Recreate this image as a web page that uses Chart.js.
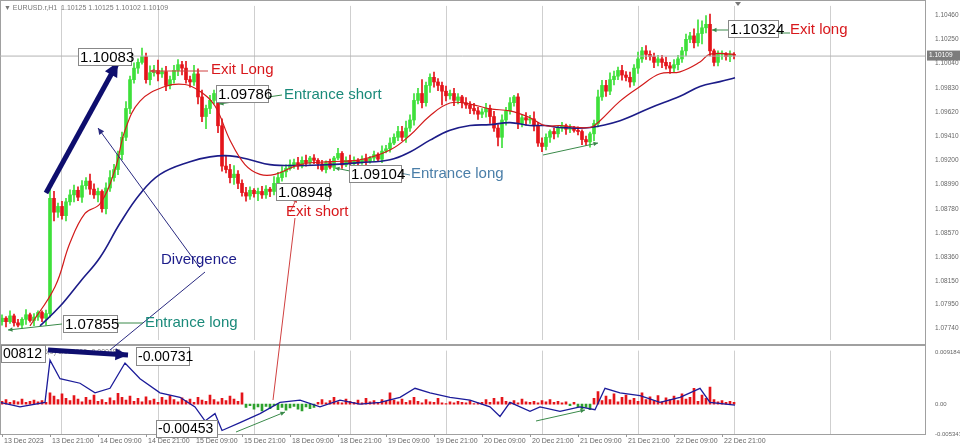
<!DOCTYPE html>
<html><head><meta charset="utf-8">
<script src="https://cdn.jsdelivr.net/npm/chart.js@4.4.1/dist/chart.umd.min.js"></script>
<style>
body{margin:0;background:#fff;width:960px;height:448px;overflow:hidden;position:relative;font-family:Arial,"Liberation Sans",sans-serif}
#m{position:absolute;left:0;top:0;width:960px;height:346px}
#l{position:absolute;left:0;top:345px;width:960px;height:103px}
#o{position:absolute;left:0;top:0;pointer-events:none}
</style></head><body>
<div id="m"><canvas id="cm"></canvas></div>
<div id="l"><canvas id="cl"></canvas></div>
<canvas id="o" width="960" height="448"></canvas>
<script>
// ---------- DATA ----------
const closes = [
1.0783,1.0780,1.0785,1.0779,1.0777,1.0782,1.0786,1.0781,1.0784,1.0788,1.0783,1.0787,
1.0887,1.0875,1.0880,1.0872,1.0884,1.0890,1.0894,1.0888,1.0898,1.0902,1.0895,1.0890,1.0893,
1.0878,1.0896,1.0905,1.0912,1.0925,1.0940,1.0965,1.0990,1.1000,1.1005,1.1010,
1.0990,1.0996,1.0998,1.0995,1.0997,1.0985,1.0990,1.0998,1.1003,1.1000,1.0990,1.0988,1.0995,
1.0975,1.0958,1.0965,1.0972,1.0978,1.0950,1.0915,1.0912,1.0905,1.0908,1.0900,1.0892,
1.0889,1.0894,1.0891,1.0893,1.0890,1.0895,1.0893,1.0900,1.0905,1.0910,1.0913,1.0916,1.0918,1.0915,1.0920,1.0918,1.0922,1.0920,
1.0917,1.0912,1.0918,1.0914,1.0922,1.0926,1.0916,1.0920,1.0917,1.0920,1.0918,1.0921,1.0919,1.0922,1.0925,1.0921,1.0928,1.0930,1.0935,1.0940,1.0945,
1.0940,1.0948,1.0955,1.0972,1.0978,1.0970,1.0985,1.0992,1.0988,1.0985,1.0980,1.0976,1.0978,1.0972,1.0975,1.0970,1.0968,1.0965,1.0963,1.0960,1.0962,
1.0965,1.0958,1.0948,1.0940,1.0955,1.0963,1.0970,1.0975,1.0952,1.0957,1.0955,1.0956,1.0950,1.0935,1.0932,1.0940,1.0945,1.0943,1.0948,1.0950,1.0947,1.0948,1.0946,1.0945,1.0938,1.0936,1.0943,
1.0952,1.0975,1.0985,1.0980,1.0990,1.0993,1.0998,1.0994,1.0992,1.0988,1.1000,1.1008,1.1015,1.1012,1.1010,1.1005,1.1008,1.1005,1.1002,1.1000,1.1003,1.1008,
1.1015,1.1025,1.1028,1.1022,1.1030,1.1035,1.1038,1.1015,1.1005,1.1012,1.1012,1.1010,1.1012,1.1011];
const firstOpen = 1.0780;
// wick sizes, one digit per candle, in units of 1.5 pips
const wickUp = "2131213121126423233232432134323423252436232332425342323463522321232143323232312121213123212312132323343438223223232132322323232312232423212121212121243343232324232222323223248456122121";
const wickDn = "2312123132242532324232324232233232312324232234232437324323432322422323231221212312121212321212121212232323243383232323232342563223232323233223212323422323232323232323232323232633223232321";
const redMAx = [30,55,70,85,100,115,125,140,165,185,200,215,230,245,260,275,300,330,360,390,410,430,450,470,490,510,530,545,560,590,600,620,640,660,680,700,710,735];
const redMAy = [1.07763,1.08103,1.08484,1.08739,1.08823,1.09120,1.09460,1.09714,1.09841,1.09858,1.09798,1.09671,1.09375,1.09163,1.09078,1.09078,1.09163,1.09188,1.09205,1.09290,1.09417,1.09587,1.09697,1.09688,1.09646,1.09629,1.09570,1.09502,1.09502,1.09485,1.09544,1.09714,1.09841,1.09951,1.09968,1.10053,1.10121,1.10121];
const blueMAx = [40,60,80,100,120,140,160,190,210,230,250,270,300,330,360,390,410,430,450,470,490,510,530,545,560,590,620,650,680,700,720,735];
const blueMAy = [1.07763,1.07933,1.08145,1.08357,1.08654,1.08908,1.09078,1.09188,1.09230,1.09239,1.09205,1.09163,1.09155,1.09163,1.09180,1.09205,1.09273,1.09375,1.09460,1.09502,1.09510,1.09527,1.09502,1.09502,1.09485,1.09485,1.09544,1.09654,1.09756,1.09841,1.09883,1.09917];
const priceTicks = [1.10460,1.10250,1.10040,1.09830,1.09620,1.09410,1.09200,1.08990,1.08780,1.08570,1.08360,1.08150,1.07950,1.07740];
const hist = [5,8,3,6,4,9,3,5,7,4,6,3,
20,14,8,18,10,6,15,9,4,12,7,16,5,
8,3,11,6,19,12,7,14,5,10,4,13,
6,9,3,12,7,15,8,4,11,6,9,3,
12,7,5,16,8,4,10,6,14,9,5,20,
-6,-3,-9,-5,-12,-4,-8,-3,-10,-6,-11,-7,-4,-9,-12,-5,-8,-6,
3,8,2,6,12,4,2,9,5,3,7,2,10,4,6,3,8,5,20,7,4,
9,3,6,12,5,2,8,4,3,10,2,1,4,2,5,3,2,6,1,2,3,
8,3,10,4,12,5,3,6,2,9,4,3,5,2,6,4,8,3,5,2,4,-3,3,-5,-8,-6,-10,
10,22,6,14,8,18,4,12,16,7,10,5,20,8,13,6,15,4,11,8,14,6,18,9,12,28,5,16,10,30,8,4,6,3,5,3];
const oscX = [0,20,45,50,60,80,95,110,125,140,160,180,195,205,215,222,240,260,280,300,320,340,360,380,400,415,430,450,470,490,500,510,530,540,560,580,595,605,620,640,660,680,700,710,735];
const oscY = [0.0003,-0.0005,0.0003,0.0078,0.0045,0.0037,0.0020,0.0028,0.0073,0.0045,0.0020,0.0012,-0.0005,-0.0030,-0.0017,-0.0047,-0.0033,-0.0017,0.0003,0.0007,-0.0005,0.0007,0.0000,0.0003,0.0012,0.0028,0.0020,0.0012,0.0007,-0.0005,-0.0022,0.0003,-0.0013,-0.0005,-0.0013,-0.0005,-0.0010,0.0028,0.0020,0.0015,0.0003,0.0012,0.0028,0.0003,-0.0002];
const oscTicks = [0.009184,0,-0.005343];
const oscTickLabels = ["0.009184","0.00","-0.005343"];
const dateLabels = ["13 Dec 2023","13 Dec 21:00","14 Dec 09:00","14 Dec 21:00","15 Dec 09:00","15 Dec 21:00","18 Dec 09:00","18 Dec 21:00","19 Dec 09:00","19 Dec 21:00","20 Dec 09:00","20 Dec 21:00","21 Dec 09:00","21 Dec 21:00","22 Dec 09:00","22 Dec 21:00"];
const lastPrice = 1.10109;

// ---------- BUILD ----------
const UP='#3ee03a', DN='#e4141a';
const pxToIdx = x => (x-2)/4;
const n = closes.length;
const bodies=[], wicks=[], bodyCol=[];
for(let i=0;i<n;i++){
  const o = i? closes[i-1] : firstOpen, c = closes[i];
  const hu = (+wickUp[i]||1)*0.00015, hd=(+wickDn[i]||1)*0.00015;
  bodies.push({x:i,y:[o,c]});
  wicks.push({x:i,y:[Math.min(o,c)-hd, Math.max(o,c)+hu]});
  bodyCol.push(c>=o?UP:DN);
}
const gridIdx=[]; for(let k=15;k<231;k+=24) gridIdx.push(k);
const xCommon = {type:'linear',min:-0.5,max:230.75,offset:false,
  afterBuildTicks:s=>{s.ticks=gridIdx.map(v=>({value:v}));},
  ticks:{display:false}, border:{display:false},
  grid:{color:'#cfcfcf',borderDash:[2,2],drawTicks:false,lineWidth:1,offset:false},
  afterFit:s=>{s.height=0;s.paddingLeft=0;s.paddingRight=0;}};
Chart.defaults.animation=false;
Chart.defaults.font.family='Arial, "Liberation Sans", sans-serif';

const main = new Chart(document.getElementById('cm'),{
  data:{datasets:[
    {type:'bar',data:wicks,backgroundColor:bodyCol,barThickness:1,grouped:false,order:3},
    {type:'bar',data:bodies,backgroundColor:bodyCol,barThickness:3,minBarLength:1,grouped:false,order:2},
    {type:'line',data:redMAx.map((x,i)=>({x:pxToIdx(x),y:redMAy[i]})),borderColor:'#d21a1a',borderWidth:1.2,pointRadius:0,tension:0.4,order:1},
    {type:'line',data:blueMAx.map((x,i)=>({x:pxToIdx(x),y:blueMAy[i]})),borderColor:'#1c1c88',borderWidth:1.6,pointRadius:0,tension:0.4,order:1}
  ]},
  options:{responsive:true,maintainAspectRatio:false,layout:{padding:{top:3,bottom:0,left:0}},
    plugins:{legend:{display:false},tooltip:{enabled:false}},
    scales:{x:xCommon,
      y:{position:'right',min:1.0764,max:1.1054,
        afterBuildTicks:s=>{s.ticks=priceTicks.map(v=>({value:v}));},
        ticks:{font:{size:6.5},color:'#666',padding:2,callback:v=>v.toFixed(5)},
        grid:{display:false},border:{display:false},afterFit:s=>{s.width=35;}}}}
});
const low = new Chart(document.getElementById('cl'),{
  data:{datasets:[
    {type:'bar',data:hist.slice(0,n).map((v,i)=>({x:i,y:v*1e-4})),backgroundColor:hist.map(v=>v>=0?'#e4141a':'#2ca02c'),barThickness:2,grouped:false,order:2},
    {type:'line',data:oscX.map((x,i)=>({x:pxToIdx(x),y:oscY[i]})),borderColor:'#1c1c9a',borderWidth:1.3,pointRadius:0,tension:0,order:1}
  ]},
  options:{responsive:true,maintainAspectRatio:false,layout:{padding:{top:1,bottom:13,left:0}},
    plugins:{legend:{display:false},tooltip:{enabled:false}},
    scales:{x:xCommon,
      y:{position:'right',min:-0.0055,max:0.0095,
        afterBuildTicks:s=>{s.ticks=oscTicks.map(v=>({value:v}));},
        ticks:{font:{size:6},color:'#666',padding:2,callback:(v,i)=>oscTickLabels[i]},
        grid:{display:false},border:{display:false},afterFit:s=>{s.width=35;}}}}
});

// ---------- OVERLAY (frame + annotations) ----------
const g=document.getElementById('o').getContext('2d');
const ca=main.chartArea, la=low.chartArea;
g.strokeStyle='#a0a0a0';g.lineWidth=1;
g.strokeRect(0.5,0.5,ca.right,448-14);
g.lineWidth=2;g.beginPath();g.moveTo(0,345);g.lineTo(ca.right,345);g.stroke();
const lpY=main.scales.y.getPixelForValue(lastPrice);
g.lineWidth=1;g.strokeStyle='#b4b4b4';g.beginPath();g.moveTo(0,lpY+0.5);g.lineTo(ca.right,lpY+0.5);g.stroke();
g.fillStyle='#7c7c7c';g.fillRect(ca.right+2,lpY-5,33,10);
g.fillStyle='#fff';g.font='6.5px Arial';g.textBaseline='middle';g.fillText(lastPrice.toFixed(5),ca.right+4,lpY);
g.fillStyle='#777';g.font='7px Arial';g.fillText('\u25BC EURUSD.r,H1  1.10125 1.10125 1.10102 1.10109',4,8);
g.fillText('(12,26,9) 0.000000 -0.000189',28,352);
g.fillStyle='#777';g.beginPath();g.moveTo(735,2);g.lineTo(741,2);g.lineTo(738,6);g.fill();
g.font='7px Arial';
dateLabels.forEach((t,k)=>{const x=low.scales.x.getPixelForValue(k*12);g.fillStyle='#666';g.fillText(t,x+2,441);
  g.strokeStyle='#999';g.beginPath();g.moveTo(x+0.5,434);g.lineTo(x+0.5,437);g.stroke();});

function arrow(x1,y1,x2,y2,col,w,head){
  g.strokeStyle=col;g.fillStyle=col;g.lineWidth=w;g.beginPath();g.moveTo(x1,y1);g.lineTo(x2,y2);g.stroke();
  if(head){const a=Math.atan2(y2-y1,x2-x1);g.beginPath();g.moveTo(x2,y2);
    g.lineTo(x2-head*Math.cos(a-0.45),y2-head*Math.sin(a-0.45));g.lineTo(x2-head*Math.cos(a+0.45),y2-head*Math.sin(a+0.45));g.closePath();g.fill();}
}
function box(t,x,y,w,h,fs){g.fillStyle='#fff';g.fillRect(x,y,w,h);g.strokeStyle='#888';g.lineWidth=1;g.strokeRect(x+0.5,y+0.5,w,h);
  g.fillStyle='#000';g.font=(fs||15)+'px Arial';g.textBaseline='middle';g.fillText(t,x+2,y+h/2+1);}
function label(t,x,y,col){g.fillStyle=col;g.font='15px Arial';g.textBaseline='middle';g.fillText(t,x,y);}

arrow(200,268,98,128,'#2a2a80',1,7);
arrow(205,272,110,350,'#2a2a80',1,0);
arrow(295,218,273,400,'#d04040',1,0);
arrow(290,212,297,198,'#d04040',1,5);
arrow(208,71,150,71,'#d04040',1,5);
arrow(282,95,219,104,'#3a8a4a',1,5);
arrow(410,175,400,173,'#5a8aa0',1,0);
arrow(350,171,335,168,'#3a8a4a',1,5);
arrow(143,323,117,323,'#3a8a4a',1,0);
arrow(62,324,8,330,'#3a8a4a',1,5);
arrow(543,155,598,143,'#3a8a4a',1,5);
arrow(236,432,285,412,'#3a8a4a',1,5);
arrow(536,421,585,410,'#3a8a4a',1,5);
arrow(728,30,712,30,'#3a8a4a',1,5);
arrow(778,33,790,33,'#3a8a4a',1,0);
arrow(46,193,118,62,'#0e0e6e',5,16);
arrow(48,350,128,355,'#0e0e6e',5,14);
box('1.10083',78,48,53,17);
label('Exit Long',211,70,'#d8181c');
box('1.09786',216,85,52,17);
label('Entrance short',284,95,'#1a8a7a');
box('1.09104',349,165,52,17);
label('Entrance long',411,174,'#4a7ea8');
box('1.08948',276,183,53,17);
label('Exit short',286,212,'#d8181c');
label('Divergence',161,260,'#1c1c8a');
box('1.07855',63,315,54,17);
label('Entrance long',145,323,'#1a8a7a');
box('1.10324',728,20,50,17);
label('Exit long',790,30,'#d8181c');
box('00812',1,345,44,17,14);
box('-0.00731',136,347,53,18,14);
box('-0.00453',156,420,61,17,14);
</script></body></html>
